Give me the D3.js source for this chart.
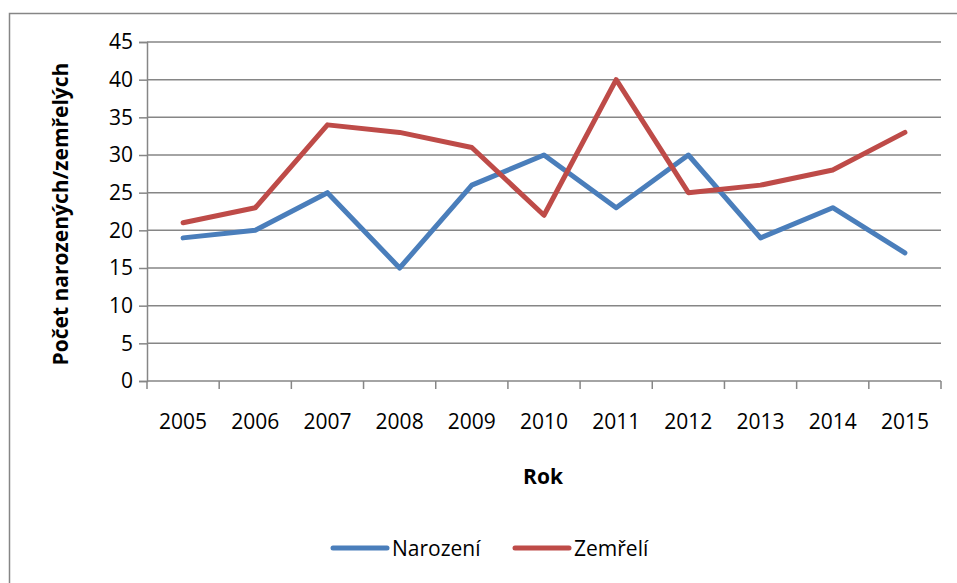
<!DOCTYPE html>
<html>
<head>
<meta charset="utf-8">
<script src="https://cdn.jsdelivr.net/npm/d3@7"></script>
<style>
  body { margin: 0; background: #fff; }
  text { font-family: "Open Sans", sans-serif; fill: #000; }
</style>
</head>
<body>
<div id="chart"></div>
<script>
var years = ["2005", "2006", "2007", "2008", "2009", "2010", "2011", "2012", "2013", "2014", "2015"];
var narozeni = [19, 20, 25, 15, 26, 30, 23, 30, 19, 23, 17];
var zemreli = [21, 23, 34, 33, 31, 22, 40, 25, 26, 28, 33];
var yTicks = [0, 5, 10, 15, 20, 25, 30, 35, 40, 45];

var series = [
    { name: "Narození", values: narozeni, color: "#4a7ebb" },
    { name: "Zemřelí", values: zemreli, color: "#be4b48" }
];

var W = 957, H = 583;
var margin = { top: 42, right: 16, bottom: 202, left: 147 },
    width = W - margin.left - margin.right,
    height = H - margin.top - margin.bottom;

var root = d3.select("#chart")
    .append("svg")
    .attr("width", W)
    .attr("height", H);

// outer chart border
root.append("rect")
    .attr("x", 9.5).attr("y", 13.5)
    .attr("width", W).attr("height", H)
    .attr("fill", "none")
    .attr("stroke", "#868686")
    .attr("stroke-width", 1.5);

var svg = root.append("g")
    .attr("transform", "translate(" + margin.left + "," + margin.top + ")");

var x = d3.scaleBand()
    .domain(years)
    .range([0, width]);

var y = d3.scaleLinear()
    .domain([0, 45])
    .range([height, 0]);

// gridlines
svg.append("g")
    .selectAll("line.grid")
    .data(yTicks.filter(function (d) { return d > 0; }))
    .enter()
    .append("line")
    .attr("class", "grid")
    .attr("x1", 0).attr("x2", width)
    .attr("y1", function (d) { return y(d); })
    .attr("y2", function (d) { return y(d); })
    .attr("stroke", "#868686")
    .attr("stroke-width", 1.5);

// Y axis
var yAxis = svg.append("g")
    .call(d3.axisLeft(y).tickValues(yTicks).tickSize(8).tickPadding(6));
yAxis.select(".domain").attr("stroke", "#868686").attr("stroke-width", 1.5);
yAxis.selectAll(".tick line").attr("stroke", "#868686").attr("stroke-width", 1.5);
yAxis.selectAll("text").style("font-size", "21px").attr("fill", "#000");

// X axis: ticks between categories
var xAxis = svg.append("g")
    .attr("transform", "translate(0," + height + ")");
xAxis.append("line")
    .attr("x1", 0).attr("x2", width)
    .attr("stroke", "#868686").attr("stroke-width", 1.5);
xAxis.selectAll("line.tk")
    .data(years.concat(["end"]))
    .enter()
    .append("line")
    .attr("class", "tk")
    .attr("x1", function (d, i) { return i * x.step(); })
    .attr("x2", function (d, i) { return i * x.step(); })
    .attr("y1", 0).attr("y2", 8)
    .attr("stroke", "#868686").attr("stroke-width", 1.5);
xAxis.selectAll("text.lbl")
    .data(years)
    .enter()
    .append("text")
    .attr("class", "lbl")
    .attr("x", function (d) { return x(d) + x.bandwidth() / 2; })
    .attr("y", 48)
    .attr("text-anchor", "middle")
    .style("font-size", "21px")
    .text(function (d) { return d; });

// lines
var line = d3.line()
    .x(function (d, i) { return x(years[i]) + x.bandwidth() / 2; })
    .y(function (d) { return y(d); });

svg.append("g")
    .selectAll("path.series")
    .data(series)
    .enter()
    .append("path")
    .attr("class", "series")
    .attr("fill", "none")
    .attr("stroke", function (d) { return d.color; })
    .attr("stroke-width", 5)
    .attr("stroke-linejoin", "round")
    .attr("stroke-linecap", "round")
    .attr("d", function (d) { return line(d.values); });

// axis titles
root.append("text")
    .attr("transform", "translate(68," + 214 + ") rotate(-90)")
    .attr("text-anchor", "middle")
    .style("font-size", "21px")
    .style("font-weight", "bold")
    .text("Počet narozených/zemřelých");

root.append("text")
    .attr("x", 543)
    .attr("y", 484)
    .attr("text-anchor", "middle")
    .style("font-size", "21px")
    .style("font-weight", "bold")
    .text("Rok");

// legend
var legX = [333, 515];
var leg = root.append("g")
    .selectAll("g.leg")
    .data(series)
    .enter()
    .append("g")
    .attr("class", "leg")
    .attr("transform", function (d, i) { return "translate(" + legX[i] + ",548)"; });
leg.append("line")
    .attr("x1", 0).attr("x2", 54)
    .attr("stroke", function (d) { return d.color; })
    .attr("stroke-width", 5)
    .attr("stroke-linecap", "round");
leg.append("text")
    .attr("x", 59)
    .attr("y", 8)
    .style("font-size", "21px")
    .text(function (d) { return d.name; });
</script>
</body>
</html>
